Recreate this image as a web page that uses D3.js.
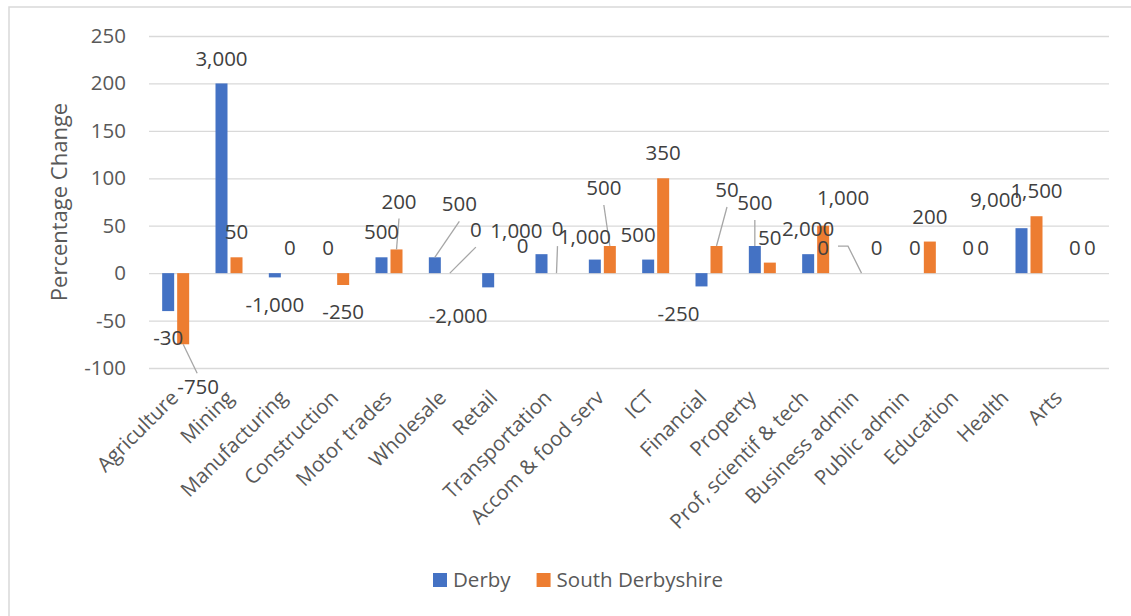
<!DOCTYPE html>
<html>
<head>
<meta charset="utf-8">
<script src="https://cdn.jsdelivr.net/npm/d3@7"></script>
<style>
  body { margin: 0; background: #fff; }
  svg text { font-family: "Open Sans", sans-serif; }
</style>
</head>
<body>
<svg id="chart" width="1131" height="616"></svg>
<script>
// data
var categories = ['Agriculture', 'Mining', 'Manufacturing', 'Construction', 'Motor trades', 'Wholesale',
    'Retail', 'Transportation', 'Accom & food serv', 'ICT', 'Financial', 'Property',
    'Prof, scientif & tech', 'Business admin', 'Public admin', 'Education', 'Health', 'Arts'];
var seriesNames = ['Derby', 'South Derbyshire'];
var derbyValues = [-40, 200, -4.5, 0, 16.7, 16.7, -15, 20, 14.3, 14.3, -14, 28.6, 20, 0, 0, 0, 47.4, 0];
var southValues = [-75, 16.7, 0, -12.5, 25, 0, 0, 0, 28.6, 100, 28.6, 11.1, 50, 0, 33.3, 0, 60, 0];
var derbyLabels = ['-30', '3,000', '-1,000', '0', '500', '500', '-2,000', '0', '1,000', '500', '-250', '500',
    '2,000', '0', '0', '0', '9,000', '0'];
var southLabels = ['-750', '50', '0', '-250', '200', '0', '1,000', '0', '500', '350', '50', '50',
    '1,000', '0', '200', '0', '1,500', '0'];
var yTicks = [-100, -50, 0, 50, 100, 150, 200, 250];

// hand-moved data labels: [series, index, dx, dy, leader]
var labelMoves = [
    [1, 0, 15, 16, 'below'],
    [1, 4, 2.5, -23, 'above'],
    [0, 5, 24.5, -28, 'above'],
    [1, 5, 26, -18, 'above'],
    [0, 6, -30, 1.5, null],
    [1, 6, 13.3, -17, null],
    [0, 7, -19, 17, null],
    [1, 7, 1, -19, 'above'],
    [0, 8, -10, 2.5, null],
    [1, 8, -6, -33, 'above'],
    [0, 9, -10, 0, null],
    [0, 10, -23, 0, null],
    [1, 10, 10.5, -31, 'above'],
    [0, 11, 0, -18, 'above'],
    [1, 12, 20, -2.5, null],
    [0, 13, -38.5, 0, 'side'],
    [0, 16, -25.5, -3, null]
];
// category label shift (Excel squeezes the right hand ones)
var catShift = [4, 6, 6, 4, 4, 5, 3, 4, 3, -1, -1, -5, -6, -9, -12, -16, -19, -19];

var colors = ['#4472C4', '#ED7D31'];
var svg = d3.select('#chart');

// chart area border (only top/left visible in the crop)
svg.append('rect')
    .attr('x', 9).attr('y', 7).attr('width', 1300).attr('height', 800)
    .attr('fill', 'none').attr('stroke', '#d9d9d9').attr('stroke-width', 1.5);

var x = d3.scaleBand().domain(categories).range([149, 1109]).padding(0);
var y = d3.scaleLinear().domain([-100, 250]).range([368, 36]);

// gridlines
svg.append('g')
    .attr('transform', 'translate(149,0)')
    .call(d3.axisLeft(y).tickValues(yTicks).tickSize(-960).tickFormat(''))
    .call(function (g) {
        g.select('.domain').remove();
        g.selectAll('line').attr('stroke', '#d9d9d9').attr('stroke-width', 1.3);
    });

// y tick labels
svg.append('g')
    .attr('transform', 'translate(126,0)')
    .call(d3.axisLeft(y).tickValues(yTicks).tickSize(0).tickPadding(0)
        .tickFormat(function (d) { return String(d); }))
    .call(function (g) {
        g.select('.domain').remove();
        g.selectAll('text')
            .attr('font-family', '"Open Sans", sans-serif')
            .attr('font-size', '20.5px')
            .attr('fill', '#595959');
    });

svg.append('text')
    .attr('transform', 'translate(67,' + y(75) + ') rotate(-90)')
    .attr('text-anchor', 'middle')
    .attr('font-size', '22px')
    .attr('fill', '#595959')
    .text('Percentage Change');

var barW = 12, barGap = 3;
var allValues = [derbyValues, southValues];
var allLabels = [derbyLabels, southLabels];

function barX(s, i) {
    var c = x(categories[i]) + x.bandwidth() / 2;
    return s == 0 ? c - barGap / 2 - barW : c + barGap / 2;
}

allValues.forEach(function (vals, s) {
    svg.append('g').selectAll('rect')
        .data(vals)
        .enter().append('rect')
        .attr('x', function (d, i) { return barX(s, i); })
        .attr('y', function (d) { return y(Math.max(0, d)); })
        .attr('width', barW)
        .attr('height', function (d) { return Math.abs(y(d) - y(0)); })
        .attr('fill', colors[s]);
});

// data labels + leader lines
var leaderG = svg.append('g');
var labelG = svg.append('g');
allValues.forEach(function (vals, s) {
    vals.forEach(function (v, i) {
        var bx = barX(s, i) + barW / 2;
        var endY = y(v);
        var lx = bx, ly = v < 0 ? endY + 27 : endY - 25;
        var mv = labelMoves.filter(function (m) { return m[0] == s && m[1] == i; })[0];
        if (mv) {
            lx += mv[2];
            ly += mv[3];
            if (mv[4] == 'above') {
                leaderG.append('line').attr('x1', bx).attr('y1', endY).attr('x2', lx).attr('y2', ly + 17);
            } else if (mv[4] == 'below') {
                leaderG.append('line').attr('x1', bx).attr('y1', endY).attr('x2', lx - 1).attr('y2', ly - 14);
            } else if (mv[4] == 'side') {
                leaderG.append('polyline')
                    .attr('points', [[lx + 15, ly - 2], [lx + 25, ly - 2], [bx, endY]].join(' '))
                    .attr('fill', 'none');
            }
        }
        labelG.append('text')
            .attr('x', lx).attr('y', ly)
            .attr('dy', '0.35em')
            .attr('text-anchor', 'middle')
            .attr('font-size', '20.5px')
            .attr('fill', '#404040')
            .text(allLabels[s][i]);
    });
});
leaderG.selectAll('line, polyline').attr('stroke', '#a6a6a6').attr('stroke-width', 1.3);

// category labels
svg.append('g').selectAll('text')
    .data(categories)
    .enter().append('text')
    .attr('transform', function (d, i) {
        return 'translate(' + (x(d) + x.bandwidth() / 2 + catShift[i]) + ',399) rotate(-45)';
    })
    .attr('text-anchor', 'end')
    .attr('font-size', '20.5px')
    .attr('fill', '#595959')
    .text(function (d) { return d; });

// legend
var legend = svg.append('g');
var lx0 = 433;
seriesNames.forEach(function (name, s) {
    legend.append('rect')
        .attr('x', lx0).attr('y', 573).attr('width', 14).attr('height', 14)
        .attr('fill', colors[s]);
    var t = legend.append('text')
        .attr('x', lx0 + 20).attr('y', 580).attr('dy', '0.35em')
        .attr('font-size', '20.5px')
        .attr('fill', '#595959')
        .text(name);
    lx0 += 20 + t.node().getComputedTextLength() + 26;
});
</script>
</body>
</html>
